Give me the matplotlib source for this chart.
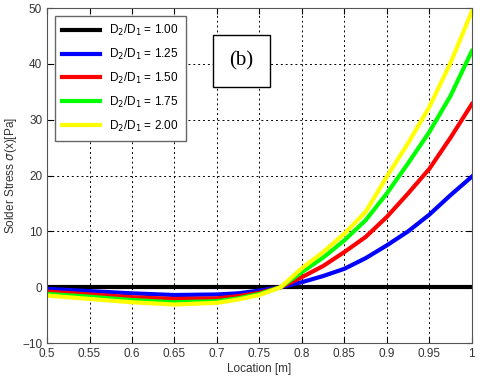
import matplotlib
matplotlib.use("Agg")
import matplotlib.pyplot as plt
import numpy as np

plt.rcParams['font.family'] = ['Liberation Sans', 'DejaVu Sans']

x = [0.5, 0.55, 0.6, 0.65, 0.7, 0.725, 0.75, 0.775, 0.8, 0.825, 0.85, 0.875, 0.9, 0.925, 0.95, 0.975, 1.0]
s100 = [0] * len(x)
s125 = [-0.3, -0.7, -1.1, -1.4, -1.3, -1.1, -0.6, 0, 0.9, 2.0, 3.3, 5.2, 7.5, 10.0, 13.0, 16.5, 19.8]
s150 = [-0.8, -1.3, -1.8, -2.1, -2.0, -1.6, -1.0, 0, 1.8, 3.8, 6.3, 9.0, 12.6, 16.8, 21.2, 26.8, 32.8]
s175 = [-1.2, -1.7, -2.3, -2.7, -2.5, -2.0, -1.2, 0, 2.7, 5.3, 8.4, 12.0, 16.8, 22.2, 27.8, 34.3, 42.3]
s200 = [-1.5, -2.1, -2.7, -3.1, -2.8, -2.2, -1.4, 0, 3.4, 6.3, 9.6, 13.5, 19.8, 25.8, 32.3, 40.2, 49.4]
labels = ['1.00', '1.25', '1.50', '1.75', '2.00']
xticks = [0.5, 0.55, 0.6, 0.65, 0.7, 0.75, 0.8, 0.85, 0.9, 0.95, 1]
xticklabels = ['0.5', '0.55', '0.6', '0.65', '0.7', '0.75', '0.8', '0.85', '0.9', '0.95', '1']
yticks = [-10, 0, 10, 20, 30, 40, 50]

fig = plt.figure(figsize=(4.8, 3.82), dpi=100)
ax = fig.add_axes([0.098, 0.102, 0.885, 0.877])

series = [s100, s125, s150, s175, s200]
colors = ['black', 'blue', 'red', '#00ff00', 'yellow']
for s, c, lab in zip(series, colors, labels):
    ax.plot(x, s, color=c, lw=3, label='D$_2$/D$_1$ = ' + lab, solid_joinstyle='round')

ax.set_xlim(0.5, 1)
ax.set_ylim(-10, 50)
ax.set_xticks(xticks)
ax.set_xticklabels(xticklabels)
ax.set_yticks(yticks)
ax.grid(True, color='black', ls=(0, (2, 3)), lw=0.7)
ax.tick_params(direction='in', top=True, right=True, labelsize=8.5, labelcolor='#333333', length=4)
for sp in ax.spines.values():
    sp.set_color('#555555')

ax.set_xlabel('Location [m]', fontsize=8.5, color='#333333', labelpad=2)
ax.set_ylabel('Solder Stress $\\sigma$(x)[Pa]', fontsize=8.5, color='#333333', labelpad=2)

leg = ax.legend(loc='upper left', fontsize=8.5, handlelength=3.2, fancybox=False,
                framealpha=1, edgecolor='#666666', borderpad=0.6, labelspacing=0.75,
                bbox_to_anchor=(0.004, 0.995))
leg.get_frame().set_linewidth(1)

ax.text(0.729, 40.5, '(b)', fontsize=15, family='Liberation Serif', ha='center', va='center',
        bbox=dict(boxstyle='square,pad=0.8', fc='white', ec='black', lw=1))

fig.savefig('out.png', dpi=100)
